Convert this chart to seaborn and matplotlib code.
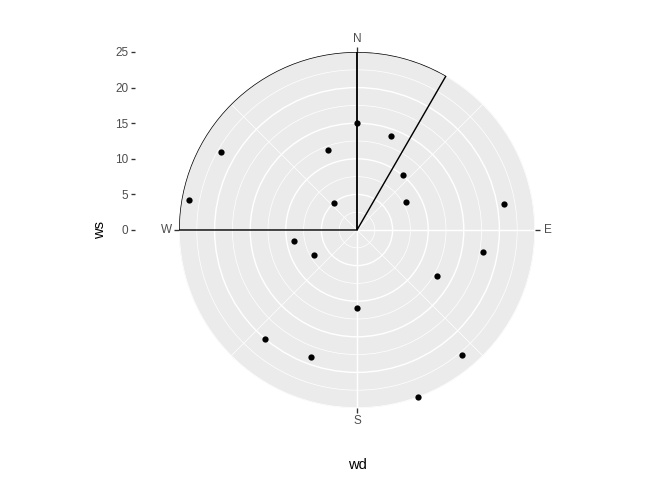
import numpy as np
import matplotlib
matplotlib.use('Agg')
import matplotlib.pyplot as plt
from matplotlib.ticker import FixedLocator
import seaborn as sns

# wind direction (degrees) and wind speed
wd = [0, 20, 40, 60, 80, 100, 120, 140, 160, 180, 200, 220, 240, 260, 280, 300, 320, 340]
ws = [15, 14, 10, 8, 21, 18, 13, 23, 25, 11, 19, 20, 7, 9, 24, 22, 5, 12]

# outlined sector (two rectangles in polar coords)
sector_start = [270, 0]
sector_end = [360, 30]
sector_top = [25, 25]

dir_breaks = [0, 90, 180, 270]
dir_labels = ['N', 'E', 'S', 'W']
dir_minor = [45, 135, 225, 315]
ws_breaks = [0, 5, 10, 15, 20, 25]
ws_minor = [2.5, 7.5, 12.5, 17.5, 22.5]

plt.rcParams['font.family'] = ['Liberation Sans', 'DejaVu Sans']

W, H = 672, 480
fig = plt.figure(figsize=(7, 5), dpi=96)

# square panel, disc radius = 0.4 * panel size
cx, cy, panel = 357, 230, 445
R = 0.4 * panel
lim = 25 / 0.8

# cartesian overlay: carries the ws axis on the left and the titles
bx = fig.add_axes([(cx - panel / 2) / W, (H - cy - panel / 2) / H, panel / W, panel / H])
bx.set_xlim(-lim, lim)
bx.set_ylim(-lim, lim)
bx.patch.set_alpha(0)
for s in bx.spines.values():
    s.set_visible(False)
bx.set_xticks([])
bx.set_yticks(ws_breaks)
bx.set_yticklabels([str(v) for v in ws_breaks])
bx.tick_params(axis='y', left=True, length=2.75, width=1, color='#333333', labelcolor='#4D4D4D',
               labelsize=8.8, pad=2)
bx.set_ylabel('ws', fontsize=11, color='black', labelpad=6)
bx.set_xlabel('wd', fontsize=11, color='black', labelpad=4)

# polar panel
ax = fig.add_axes([(cx - R) / W, (H - cy - R) / H, 2 * R / W, 2 * R / H], projection='polar')
ax.set_theta_zero_location('N')
ax.set_theta_direction(-1)
ax.set_facecolor('#EBEBEB')
ax.spines['polar'].set_visible(False)
ax.set_axisbelow(True)

ax.set_xticks(np.deg2rad(dir_breaks))
ax.set_xticklabels(dir_labels)
ax.xaxis.set_minor_locator(FixedLocator(np.deg2rad(dir_minor)))
ax.set_yticks(ws_breaks)
ax.set_yticklabels([])
ax.yaxis.set_minor_locator(FixedLocator(ws_minor))
ax.grid(which='major', color='white', linewidth=1.07)
ax.grid(which='minor', color='white', linewidth=0.53)
# tick2 sits on the outer edge of the disc
ax.tick_params(axis='x', which='major', bottom=False, top=True, labelbottom=True,
               labeltop=False, length=3.5, width=1, direction='out',
               color='#333333', labelcolor='#4D4D4D', labelsize=8.8, pad=-1)
ax.tick_params(axis='x', which='minor', length=0, top=False, bottom=False)
ax.tick_params(axis='y', which='both', length=0)

starts = np.deg2rad(sector_start)
ends = np.deg2rad(sector_end)
ax.bar((starts + ends) / 2, sector_top, width=ends - starts, bottom=0,
       fill=False, edgecolor='black', linewidth=1.07, zorder=2)

sns.scatterplot(x=np.deg2rad(wd), y=ws, ax=ax, color='black', s=22, linewidth=0,
                zorder=3, clip_on=False)
ax.set_xlabel('')
ax.set_ylabel('')
ax.set_ylim(0, 25)

fig.savefig('out.png', dpi=96)
